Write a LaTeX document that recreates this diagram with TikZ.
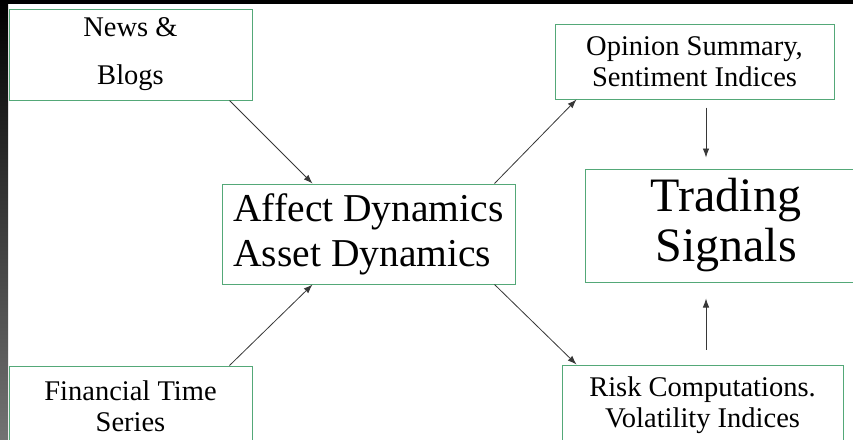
\documentclass[tikz,border=0pt]{standalone}
\usepackage{fontspec}
\setmainfont{Liberation Serif}
\usetikzlibrary{arrows.meta}

\definecolor{boxgreen}{RGB}{84,168,120}
\definecolor{linkgray}{RGB}{55,55,55}

\tikzset{
  box/.style={rectangle, draw=boxgreen, line width=1pt, fill=white, inner sep=0pt, align=center},
  small/.style={font=\fontsize{28.5}{31}\selectfont},
  link/.style={draw=linkgray, line width=0.8pt, -{Latex[length=9pt,width=6.5pt]}},
}

\begin{document}
\begin{tikzpicture}[x=1pt, y=-1pt]
    \useasboundingbox (0,0) rectangle (853,439);
    \clip (0,0) rectangle (853,439);
    % Screen edges
    \fill[black] (0,0) rectangle (853,3.5);
    \shade[top color=black, bottom color=black!55] (0,0) rectangle (8,439);

    % Sources
    \node [box, small, minimum width=243pt, minimum height=91pt] (news) at (130.5,54.5) {News \&\\[17pt]Blogs};
    \node [box, small, minimum width=243pt, minimum height=80pt] (finance) at (130.5,406) {Financial Time\\Series};

    % Dynamics
    \node [box, font=\fontsize{39.5}{45}\selectfont, align=left, minimum width=293pt, minimum height=100pt] (dyn) at (368.5,234) {Affect Dynamics\\Asset Dynamics};

    % Outputs
    \node [box, small, minimum width=279pt, minimum height=75pt] (opinion) at (694.5,61.5) {Opinion Summary,\\Sentiment Indices};
    \node [box, small, minimum width=281pt, minimum height=81pt] (risk) at (702.5,405.5) {Risk Computations.\\Volatility Indices};
    \node [box, font=\fontsize{48}{50}\selectfont, minimum width=282pt, minimum height=113pt] (trading) at (726,225.5) {Trading\\Signals};

    % Arrows
    \draw[link] ([xshift=-23pt]news.south east) -- ([xshift=91pt]dyn.north west);
    \draw[link] ([xshift=-23pt]finance.north east) -- ([xshift=91pt]dyn.south west);
    \draw[link] ([xshift=-21pt]dyn.north east) -- ([xshift=22pt]opinion.south west);
    \draw[link] ([xshift=-21pt]dyn.south east) -- ([xshift=15pt]risk.north west);
    \draw[link, shorten <=8pt, shorten >=11pt] ([xshift=11.5pt]opinion.south) -- ([xshift=-20pt]trading.north);
    \draw[link, shorten <=15pt, shorten >=16pt] ([xshift=3.5pt]risk.north) -- ([xshift=-20pt]trading.south);
\end{tikzpicture}
\end{document}
